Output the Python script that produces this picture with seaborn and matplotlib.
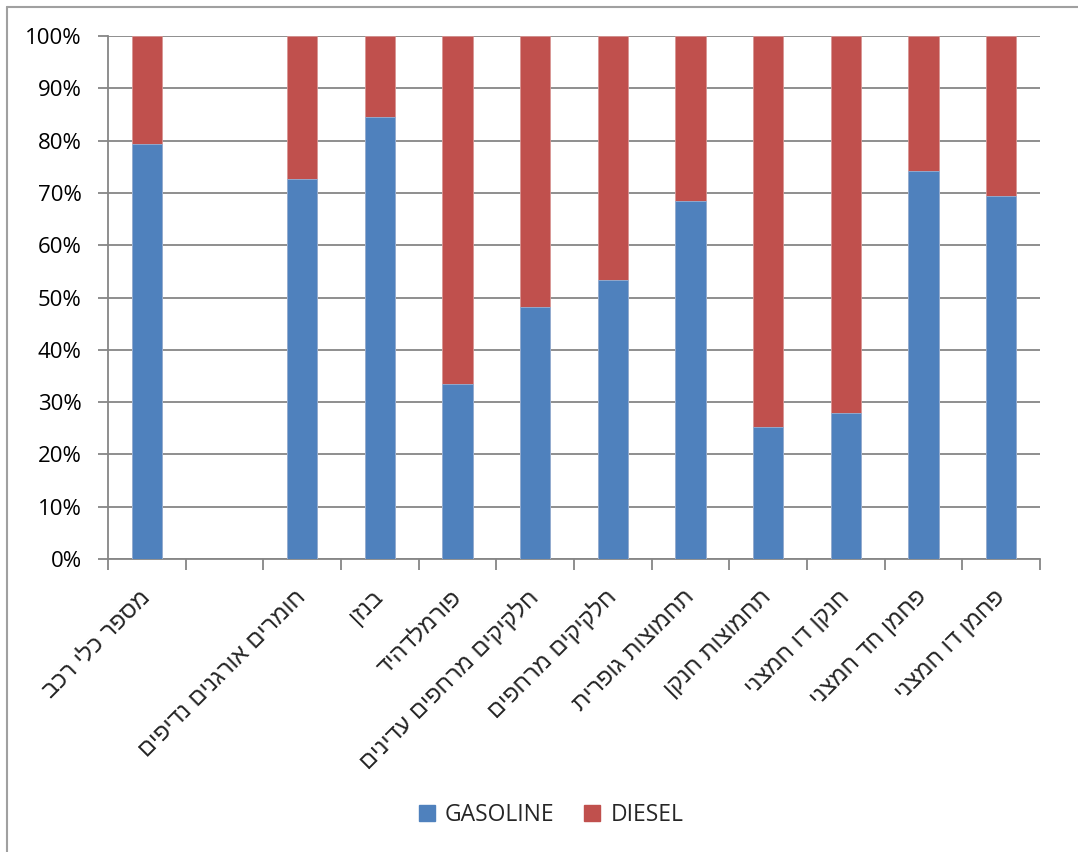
import matplotlib
matplotlib.use("Agg")
import matplotlib.pyplot as plt
from matplotlib.lines import Line2D
from matplotlib.patches import Patch
import seaborn as sns
import pandas as pd
import numpy as np

# ---- data (logical order, Hebrew) ----
categories = [
    "מספר כלי רכב",
    "",
    "חומרים אורגנים נדיפים",
    "בנזן",
    "פורמלדהיד",
    "חלקיקים מרחפים עדינים",
    "חלקיקים מרחפים",
    "תחמוצות גופרית",
    "תחמוצות חנקן",
    "חנקן דו חמצני",
    "פחמן חד חמצני",
    "פחמן דו חמצני",
]
gasoline = [79.4, np.nan, 72.7, 84.6, 33.4, 48.1, 53.4, 68.5, 25.2, 27.9, 74.1, 69.5]
diesel = [20.6, np.nan, 27.3, 15.4, 66.6, 51.9, 46.6, 31.5, 74.8, 72.1, 25.9, 30.5]
series_names = ["GASOLINE", "DIESEL"]
y_ticks = [0, 10, 20, 30, 40, 50, 60, 70, 80, 90, 100]

BLUE = "#4F81BD"
RED = "#C0504D"
GRID = "#868686"

sns.set_theme(style="white")
plt.rcParams["font.family"] = ["Liberation Sans", "DejaVu Sans"]

df = pd.DataFrame({
    "pos": list(range(len(categories))),
    "gas": gasoline,
    "total": [g + d for g, d in zip(gasoline, diesel)],
})

fig = plt.figure(figsize=(10.78, 8.52), dpi=100)
ax = fig.add_axes([108 / 1078, 1 - 559 / 852, (1040 - 108) / 1078, (559 - 36) / 852])

sns.barplot(data=df, x="pos", y="total", color=RED, width=0.39, ax=ax,
            saturation=1, edgecolor="#D99694", linewidth=0.6, zorder=3, errorbar=None)
sns.barplot(data=df, x="pos", y="gas", color=BLUE, width=0.39, ax=ax,
            saturation=1, edgecolor="#95B3D7", linewidth=0.6, zorder=4, errorbar=None)

ax.set_xlim(-0.5, len(categories) - 0.5)
ax.set_ylim(0, 100)
ax.set_xlabel("")
ax.set_ylabel("")

# grid
ax.set_yticks(y_ticks)
ax.set_yticklabels([f"{v}%" for v in y_ticks], fontsize=16,
                   family=["Open Sans", "DejaVu Sans"])
ax.yaxis.grid(True, color=GRID, linewidth=1.3, zorder=0)
ax.set_axisbelow(True)
ax.tick_params(axis="y", which="major", direction="out", length=7, width=1.3,
               color=GRID, pad=12, left=True, labelcolor="black")

# x ticks: major at boundaries, minor with labels at centres
ax.set_xticks(np.arange(-0.5, len(categories), 1.0))
ax.set_xticklabels([])
ax.tick_params(axis="x", which="major", direction="out", length=8, width=1.3,
               color=GRID, bottom=True)
ax.set_xticks(np.arange(len(categories)), minor=True)
ax.set_xticklabels([c[::-1] for c in categories], minor=True, rotation=45,
                   ha="right", va="center", rotation_mode="anchor", fontsize=17,
                   family=["Liberation Sans", "DejaVu Sans"])
ax.tick_params(axis="x", which="minor", length=0, pad=25)

for s in ["top", "right"]:
    ax.spines[s].set_visible(False)
for s in ["left", "bottom"]:
    ax.spines[s].set_color(GRID)
    ax.spines[s].set_linewidth(1.3)

# legend
handles = [Patch(facecolor=BLUE, edgecolor=BLUE), Patch(facecolor=RED, edgecolor=RED)]
fig.legend(handles, series_names, loc="center", bbox_to_anchor=(551 / 1078, 1 - 815 / 852),
           ncol=2, frameon=False, handlelength=0.7, handleheight=0.7,
           handletextpad=0.45, columnspacing=1.3,
           prop={"family": ["Open Sans", "DejaVu Sans"], "size": 16.5})

# chart-area border
bx, by = 7 / 1078, 1 - 7 / 852
fig.add_artist(Line2D([bx, 1.0], [by, by], transform=fig.transFigure, color="#A0A0A0", linewidth=1.5))
fig.add_artist(Line2D([bx, bx], [0, by], transform=fig.transFigure, color="#A0A0A0", linewidth=1.5))

fig.savefig("out.png", dpi=100)
